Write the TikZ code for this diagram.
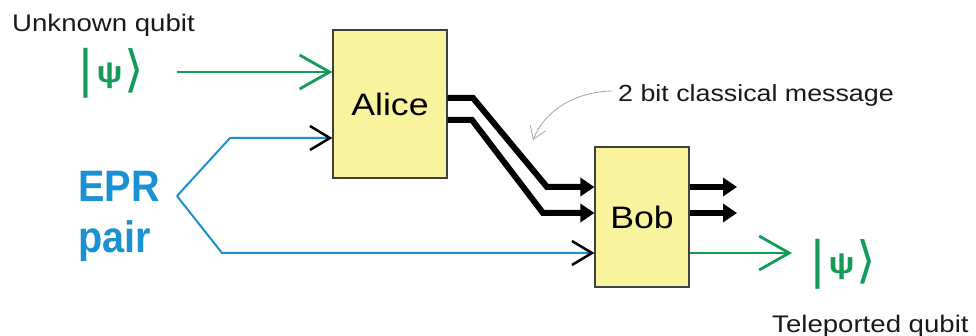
\documentclass[tikz,border=0pt]{standalone}
\usepackage{fontspec}
\setmainfont{Liberation Sans}[FakeStretch=1.15]
\newfontfamily\eprfont{Liberation Sans}[FakeStretch=0.9]
\newfontfamily\ketfont{DejaVu Sans}
\usetikzlibrary{arrows.meta}
\definecolor{qgreen}{RGB}{20,155,90}
\definecolor{eprblue}{RGB}{25,145,210}
\definecolor{boxyellow}{RGB}{249,243,158}
\newcommand{\ketpsi}{{\ketfont\fontsize{50}{50}\selectfont|}\hspace{2pt}\raisebox{4pt}{\fontsize{30}{30}\selectfont\bfseries ψ}\hspace{2pt}{\ketfont\fontsize{50}{50}\selectfont⟩}}
\begin{document}
\begin{tikzpicture}[x=1pt,y=-1pt,
  agent/.style={draw=black!75,line width=1.2pt,fill=boxyellow,font=\fontsize{31}{31}\selectfont,inner sep=0pt},
  plaintext/.style={font=\fontsize{24}{24}\selectfont,text=black!90,inner sep=0pt,anchor=base west},
  kettext/.style={text=qgreen,inner sep=0pt},
  eprtext/.style={text=eprblue,font=\eprfont\bfseries\fontsize{44}{44}\selectfont,inner sep=0pt,anchor=base west},
  qwire/.style={qgreen,line width=2.8pt,-{Straight Barb[length=30pt,width=34pt]}},
  eprwire/.style={eprblue,line width=2pt,-{Straight Barb[length=20pt,width=24pt,color=black,line width=2.5pt]}},
  cwire/.style={line width=6pt,-{Triangle[length=14pt,width=18pt]}},
  msgarrow/.style={black!35,line width=0.8pt,-{Straight Barb[length=12pt,width=16pt]}}]
\useasboundingbox (0,0) rectangle (976,336);
% the two parties
\node[agent,minimum width=114pt,minimum height=148pt] (alice) at (390,104) {Alice};
\node[agent,minimum width=94pt,minimum height=140pt] (bob) at (642,217) {Bob};
% qubits and labels
\node[kettext] (ketin) at (111,73) {\ketpsi};
\node[kettext] (ketout) at (843,264) {\ketpsi};
\node[plaintext] (unknown) at (12,32) {Unknown qubit};
\node[plaintext,font=\fontsize{23.3}{24}\selectfont] (msg) at (618,102) {2 bit classical message};
\node[plaintext] (teleported) at (772,332) {Teleported qubit};
\node[eprtext] (epr) at (78,202) {EPR};
\node[eprtext] (pair) at (78,253) {pair};
\coordinate (qin) at (177,72);
\coordinate (split) at (177,196);
\coordinate (qout) at (792,253);
\coordinate (cout1) at (737,187);
\coordinate (cout2) at (737,213);
\coordinate (msgtip) at (533,140);
% quantum wires
\draw[qwire] (qin) -- (qin -| alice.west);
\draw[eprwire] (split) -- (230,138) -- (alice.west |- 0,138);
\draw[eprwire] (split) -- (222,253) -- (bob.west |- 0,253);
\draw[qwire] (bob.east |- qout) -- (qout);
% classical bits
\draw[cwire] (alice.east |- 0,98) -- (473,98) -- (547,187) -- (bob.west |- cout1);
\draw[cwire] (alice.east |- 0,120) -- (472,120) -- (543,213) -- (bob.west |- cout2);
\draw[cwire] (bob.east |- cout1) -- (cout1);
\draw[cwire] (bob.east |- cout2) -- (cout2);
\draw[msgarrow] ([xshift=-6pt,yshift=5pt]msg.west) .. controls (575,92) and (545,110) .. (msgtip);
\end{tikzpicture}
\end{document}
